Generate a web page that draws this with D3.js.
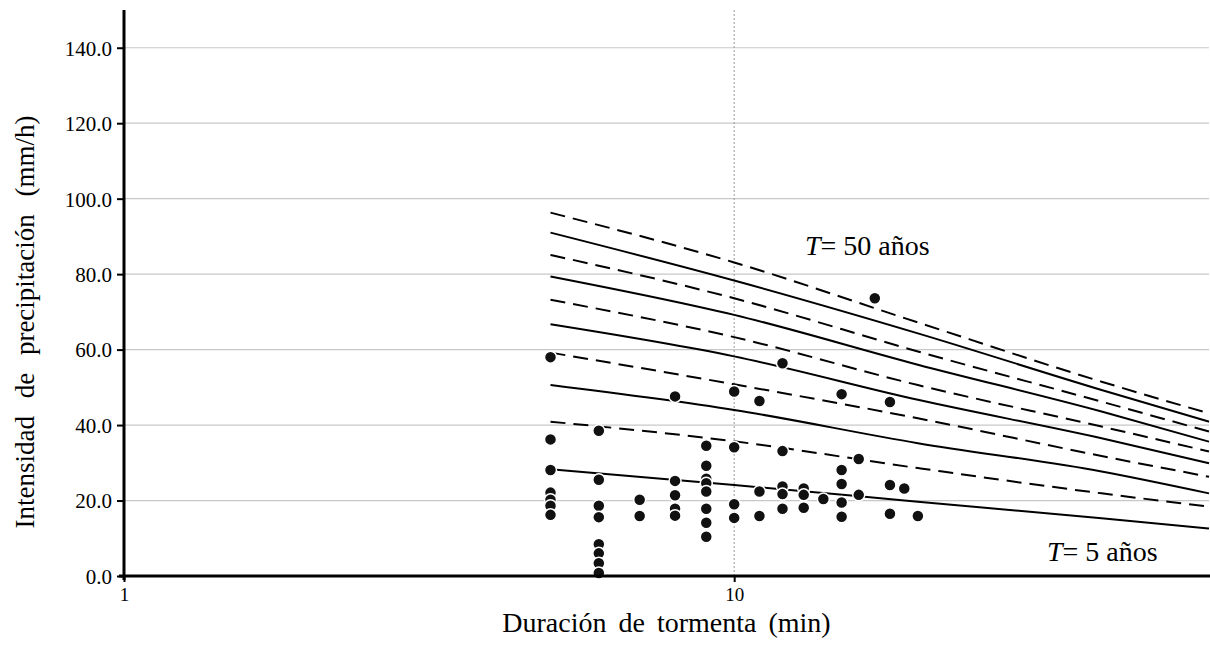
<!DOCTYPE html>
<html>
<head>
<meta charset="utf-8">
<script src="https://cdn.jsdelivr.net/npm/d3@7"></script>
<style>
  body { margin: 0; background: #fff; }
  text { font-family: "Liberation Serif", "Times New Roman", serif; fill: #000; }
</style>
</head>
<body>
<script>
// durations (min) where the curves were read
var curveDur = [5, 10, 20, 40, 60];

// IDF curves, top to bottom (dashed / solid alternate), T = 50 ... T = 5
var curve1 = [96.3, 83.1, 67.2, 51.5, 43.1];
var curve2 = [91.0, 78.3, 64.3, 49.3, 40.9];
var curve3 = [85.1, 73.6, 59.5, 46.2, 38.3];
var curve4 = [79.4, 69.2, 56.0, 43.6, 35.6];
var curve5 = [73.2, 63.3, 50.6, 39.6, 33.0];
var curve6 = [66.7, 58.2, 46.7, 36.5, 29.9];
var curve7 = [59.2, 50.8, 41.8, 31.8, 26.3];
var curve8 = [50.6, 44.0, 35.2, 27.7, 21.9];
var curve9 = [40.9, 35.7, 28.6, 21.9, 18.4];
var curve10 = [28.3, 24.1, 19.7, 15.3, 12.6];
var curves = [curve1, curve2, curve3, curve4, curve5, curve6, curve7, curve8, curve9, curve10];
var curveDashed = [true, false, true, false, true, false, true, false, true, false];

// observed storms: duration (min) and intensity (mm/h)
var obsDur = [5, 5, 5, 5, 5, 5, 5,
              6, 6, 6, 6, 6, 6, 6, 6,
              7, 7,
              8, 8, 8, 8, 8,
              9, 9, 9, 9, 9, 9, 9, 9,
              10, 10, 10, 10,
              11, 11, 11,
              12, 12, 12, 12, 12,
              13, 13, 13,
              14,
              15, 15, 15, 15, 15,
              16, 16,
              17,
              18, 18, 18,
              19,
              20];
var obsInt = [58.0, 36.2, 28.1, 22.1, 20.2, 18.6, 16.2,
              38.5, 25.5, 18.6, 15.6, 8.4, 6.0, 3.4, 0.8,
              20.2, 15.9,
              47.6, 25.2, 21.4, 17.8, 16.0,
              34.5, 29.2, 25.8, 24.6, 22.4, 17.8, 14.1, 10.4,
              48.9, 34.1, 19.0, 15.4,
              46.4, 22.4, 15.9,
              56.4, 33.1, 23.7, 21.7, 17.8,
              23.2, 21.5, 18.1,
              20.4,
              48.2, 28.1, 24.4, 19.5, 15.7,
              31.0, 21.5,
              73.6,
              46.1, 24.1, 16.5,
              23.2,
              15.9];

var yTicks = [0, 20, 40, 60, 80, 100, 120, 140];
var xTicks = [1, 10];

var W = 1210, H = 645;
var margin = {top: 10, right: 1, bottom: 69, left: 124},
    width = W - margin.left - margin.right,
    height = H - margin.top - margin.bottom;

var x = d3.scaleLog().domain([1, 60]).range([0, width]);
var y = d3.scaleLinear().domain([0, 150]).range([height, 0]);

var svg = d3.select("body").append("svg")
    .attr("width", W).attr("height", H);
var g = svg.append("g")
    .attr("transform", "translate(" + margin.left + "," + margin.top + ")");

// horizontal gridlines
g.selectAll(".hgrid")
    .data(yTicks.slice(1))
    .enter().append("line")
    .attr("x1", 0).attr("x2", width)
    .attr("y1", function(d) { return y(d); })
    .attr("y2", function(d) { return y(d); })
    .attr("stroke", "#c8c8c8").attr("stroke-width", 1.2);

// vertical gridline at 10
g.append("line")
    .attr("x1", x(10)).attr("x2", x(10))
    .attr("y1", 0).attr("y2", height)
    .attr("stroke", "#9a9a9a").attr("stroke-width", 1)
    .attr("stroke-dasharray", "2,2");

// curves
var line = d3.line()
    .x(function(d, i) { return x(curveDur[i]); })
    .y(function(d) { return y(d); })
    .curve(d3.curveMonotoneX);

g.selectAll(".curve")
    .data(curves)
    .enter().append("path")
    .attr("d", line)
    .attr("fill", "none")
    .attr("stroke", "#000")
    .attr("stroke-width", 2)
    .attr("stroke-dasharray", function(d, i) { return curveDashed[i] ? "15,8" : null; });

// observed points
g.selectAll(".dot")
    .data(obsDur)
    .enter().append("circle")
    .attr("cx", function(d) { return x(d); })
    .attr("cy", function(d, i) { return y(obsInt[i]); })
    .attr("r", 6)
    .attr("fill", "#111")
    .attr("stroke", "#fff")
    .attr("stroke-width", 1.5);

// y axis
var yAxis = g.append("g")
    .call(d3.axisLeft(y).tickValues(yTicks).tickSize(7).tickSizeOuter(0)
        .tickFormat(d3.format(".1f")));
yAxis.select(".domain").remove();
yAxis.selectAll(".tick line").attr("stroke", "#000").attr("stroke-width", 2);
yAxis.selectAll("text").style("font-size", "21px").attr("x", -12).attr("dy", "0.35em");

g.append("line")
    .attr("x1", 0).attr("x2", 0)
    .attr("y1", 0).attr("y2", height + 4)
    .attr("stroke", "#000").attr("stroke-width", 3);

// x axis
var xAxis = g.append("g")
    .attr("transform", "translate(0," + height + ")")
    .call(d3.axisBottom(x).tickValues(xTicks).tickSize(6).tickSizeOuter(0)
        .tickFormat(d3.format("d")));
xAxis.select(".domain").remove();
xAxis.selectAll(".tick line").attr("stroke", "#000").attr("stroke-width", 2);
xAxis.selectAll("text").style("font-size", "19px").attr("y", 12);

g.append("line")
    .attr("x1", -5).attr("x2", width + 1)
    .attr("y1", height).attr("y2", height)
    .attr("stroke", "#000").attr("stroke-width", 3);

// axis titles
svg.append("text")
    .attr("x", margin.left + width / 2)
    .attr("y", 632)
    .attr("text-anchor", "middle")
    .style("font-size", "28px")
    .style("word-spacing", "5px")
    .text("Duración de tormenta (min)");

svg.append("text")
    .attr("transform", "translate(34,322) rotate(-90)")
    .attr("text-anchor", "middle")
    .style("font-size", "27px")
    .style("word-spacing", "11px")
    .text("Intensidad de precipitación (mm/h)");

// return period labels
var lab50 = svg.append("text")
    .attr("x", 805).attr("y", 255)
    .style("font-size", "28px");
lab50.append("tspan").style("font-style", "italic").text("T");
lab50.append("tspan").text("= 50 años");

var lab5 = svg.append("text")
    .attr("x", 1047).attr("y", 561)
    .style("font-size", "28px");
lab5.append("tspan").style("font-style", "italic").text("T");
lab5.append("tspan").text("= 5 años");
</script>
</body>
</html>
